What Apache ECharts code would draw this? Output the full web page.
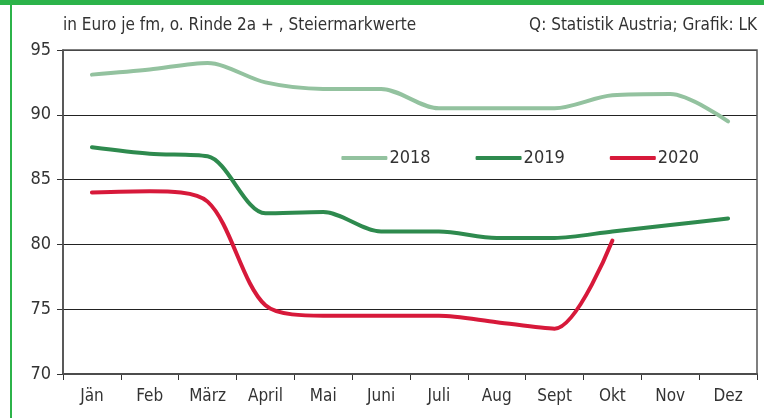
<!DOCTYPE html>
<html>
<head>
<meta charset="utf-8">
<script src="https://cdn.jsdelivr.net/npm/echarts@6/dist/echarts.min.js"></script>
<style>
	html, body { margin: 0; padding: 0; background: #fff; }
	#frame { position: absolute; left: 0; top: 0; width: 764px; height: 418px; }
	#bar { position: absolute; left: 0; top: 0; width: 764px; height: 5px; background: #2cb34a; }
	#side { position: absolute; left: 10px; top: 0; width: 2px; height: 418px; background: #2cb34a; }
	#chart { position: absolute; left: 0; top: 0; width: 764px; height: 418px; }
</style>
</head>
<body>
<div id="frame">
	<div id="chart"></div>
	<div id="bar"></div>
	<div id="side"></div>
</div>
<script>
const months = ['Jän', 'Feb', 'März', 'April', 'Mai', 'Juni', 'Juli', 'Aug', 'Sept', 'Okt', 'Nov', 'Dez'];
const values2018 = [93.1, 93.5, 94, 92.5, 92, 92, 90.5, 90.5, 90.5, 91.5, 91.6, 89.5];
const values2019 = [87.5, 87, 86.8, 82.4, 82.5, 81, 81, 80.5, 80.5, 81, 81.5, 82];
const values2020 = [84, 84.1, 83.3, 75.3, 74.5, 74.5, 74.5, 74, 73.5, 80.3];
const yTicks = [70, 75, 80, 85, 90, 95];

const font = '"Liberation Sans Narrow", "DejaVu Sans Condensed", sans-serif';

function lineSeries(name, data, color) {
	return {
		name: name,
		type: 'line',
		data: data,
		smooth: 0.3,
		symbol: 'none',
		lineStyle: { color: color, width: 4, cap: 'round' },
		itemStyle: { color: color },
		z: 3
	};
}

const chart = echarts.init(document.getElementById('chart'));
chart.setOption({
	animation: false,
	grid: { left: 63, right: 7, top: 50, bottom: 44 },
	textStyle: { fontFamily: font },
	graphic: [
		{
			type: 'text', left: 63, top: 17,
			style: { text: 'in Euro je fm, o. Rinde 2a + , Steiermarkwerte', font: '17px ' + font, fill: '#333' }
		},
		{
			type: 'text', right: 7, top: 17,
			style: { text: 'Q: Statistik Austria; Grafik: LK', font: '17px ' + font, fill: '#333' }
		},
		{
			type: 'rect', shape: { x: 63, y: 50, width: 694, height: 324 },
			style: { fill: 'none', stroke: '#555', lineWidth: 1.5 }, z: 1
		}
	],
	legend: {
		top: 144, right: 60,
		itemWidth: 46, itemHeight: 4, itemGap: 45,
		icon: 'roundRect',
		textStyle: { fontSize: 18, color: '#333', fontFamily: font, padding: [0, 0, 0, -3] },
		data: ['2018', '2019', '2020']
	},
	xAxis: {
		type: 'category',
		data: months,
		boundaryGap: true,
		axisLine: { lineStyle: { color: '#333', width: 2 } },
		axisTick: { show: true, length: 6, lineStyle: { color: '#333' } },
		axisLabel: { fontSize: 17, color: '#333', margin: 14, fontFamily: font }
	},
	yAxis: {
		type: 'value',
		min: yTicks[0], max: yTicks[yTicks.length - 1], interval: 5,
		axisLine: { show: true, lineStyle: { color: '#333', width: 1.5 } },
		axisTick: { show: true, length: 6, lineStyle: { color: '#333' } },
		axisLabel: { fontSize: 18, color: '#333', margin: 12, fontFamily: font },
		splitLine: { lineStyle: { color: '#222', width: 1 } }
	},
	series: [
		lineSeries('2018', values2018, '#93c29f'),
		lineSeries('2019', values2019, '#2e8a4e'),
		lineSeries('2020', values2020, '#d7193a')
	]
});
</script>
</body>
</html>
